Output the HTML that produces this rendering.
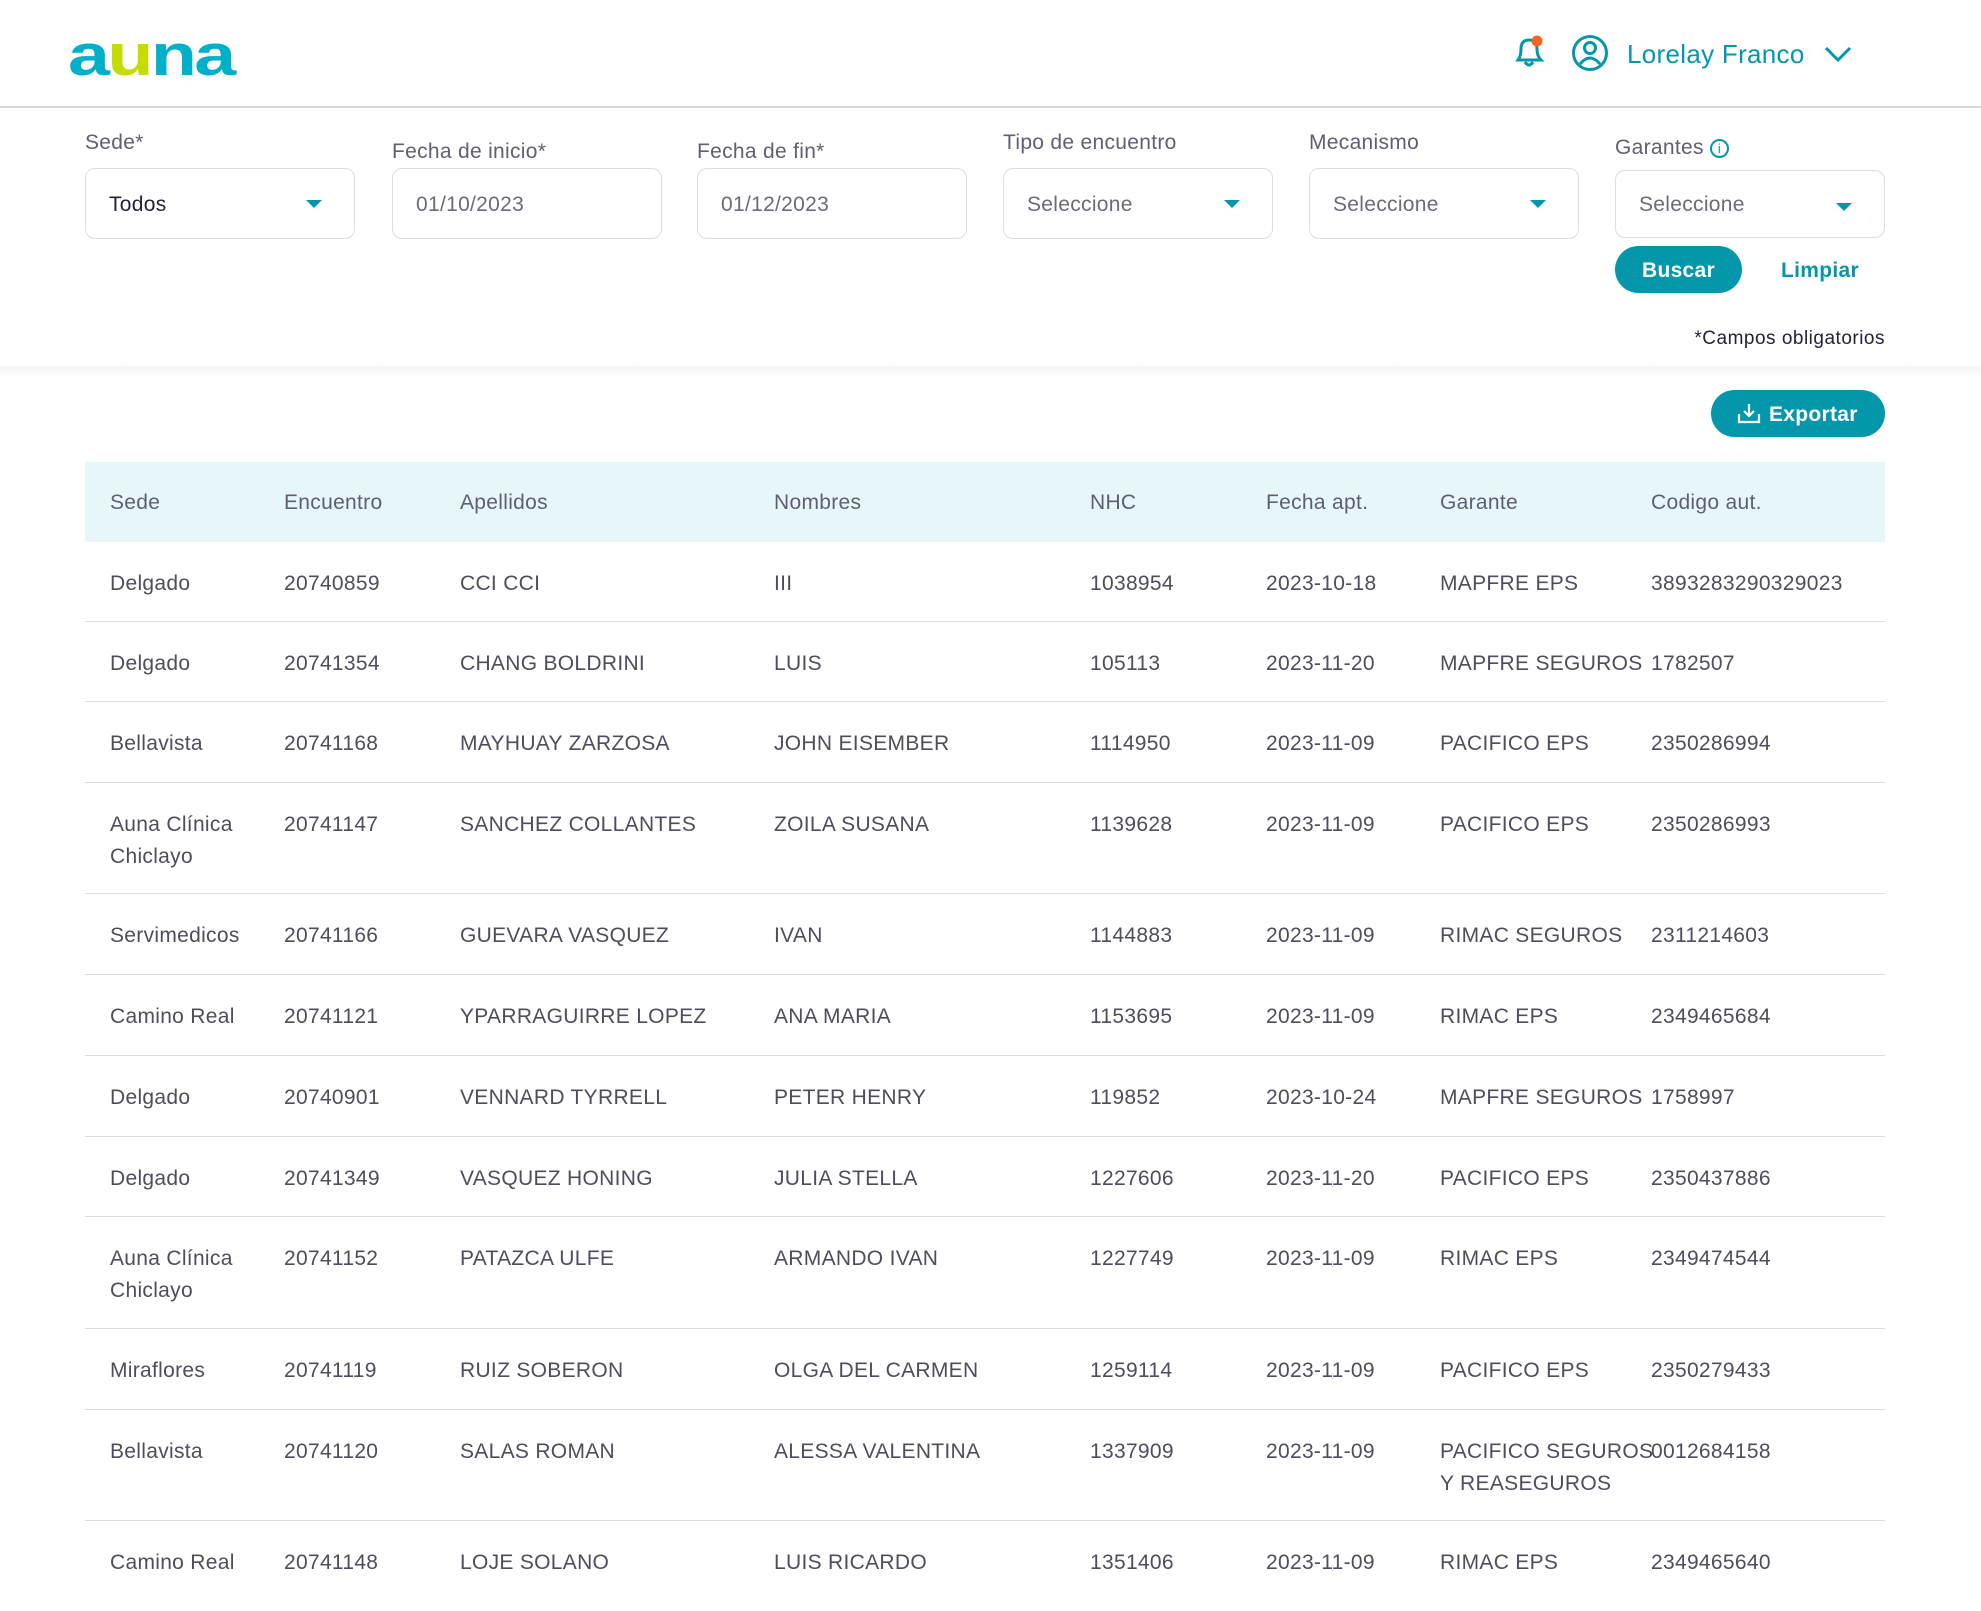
<!DOCTYPE html>
<html><head><meta charset="utf-8"><style>
*{box-sizing:border-box;margin:0;padding:0}
body{width:1981px;height:1600px;overflow:hidden;background:#fff;font-family:"Liberation Sans",sans-serif;color:#4d4d5c;position:relative;letter-spacing:0.3px}
.a{position:absolute;white-space:nowrap}
.lbl{font-size:21px;color:#5f5f70}
.inp{position:absolute;width:270px;height:71px;border:1.5px solid #dcdce6;border-radius:10px;font-size:21px;color:#6b6b78;padding:0 0 0 23px;line-height:72px}
.tri{position:absolute;right:32px;top:31px;width:0;height:0;border-left:8px solid transparent;border-right:8px solid transparent;border-top:8px solid #0497ab}
.row{position:absolute;left:85px;width:1800px;border-bottom:1.5px solid #dcdce2;font-size:21px;color:#4d4d5c}
.row div{position:absolute;top:26px;line-height:32px;white-space:nowrap}
.c1{left:25px}.c2{left:199px}.c3{left:375px}.c4{left:689px}.c5{left:1005px}.c6{left:1181px}.c7{left:1355px}.c8{left:1566px}
</style></head><body>
<div class="a" style="left:68px;top:22px;font-size:58px;font-weight:bold;color:#00afc8;letter-spacing:-2px;transform:scaleX(1.3);transform-origin:0 0">a<span style="color:#c4dc00">u</span>na</div>
<svg class="a" style="left:1513px;top:34px" width="34" height="36" viewBox="0 0 34 36"><path d="M5 26 Q8 22 8 15 Q8 6 16 6 Q24 6 24 15 Q24 22 28 26 Z" fill="none" stroke="#0497ab" stroke-width="3"/><path d="M12 28 Q16 34 20 28" fill="none" stroke="#0497ab" stroke-width="3"/><circle cx="24" cy="7" r="5.5" fill="#f26522"/></svg>
<svg class="a" style="left:1571px;top:34px" width="38" height="38" viewBox="0 0 38 38"><circle cx="19" cy="19" r="16.5" fill="none" stroke="#0497ab" stroke-width="3"/><circle cx="19" cy="14" r="5.5" fill="none" stroke="#0497ab" stroke-width="3"/><path d="M9 30 Q19 18 29 30" fill="none" stroke="#0497ab" stroke-width="3"/></svg>
<div class="a" style="left:1627px;top:39px;font-size:26px;color:#0497ab">Lorelay Franco</div>
<svg class="a" style="left:1823px;top:44px" width="30" height="20" viewBox="0 0 30 20"><path d="M3 4 L15 16 L27 4" fill="none" stroke="#0497ab" stroke-width="3"/></svg>
<div class="a" style="left:0;top:106px;width:1981px;height:1.5px;background:#d8d8e0"></div>

<div class="a lbl" style="left:85px;top:131px">Sede*</div>
<div class="a lbl" style="left:392px;top:140px">Fecha de inicio*</div>
<div class="a lbl" style="left:697px;top:140px">Fecha de fin*</div>
<div class="a lbl" style="left:1003px;top:131px">Tipo de encuentro</div>
<div class="a lbl" style="left:1309px;top:131px">Mecanismo</div>
<div class="a lbl" style="left:1615px;top:136px">Garantes <span style="display:inline-block;width:19px;height:19px;border:2px solid #0497ab;border-radius:50%;font-size:13px;line-height:15px;text-align:center;color:#0497ab;vertical-align:1px">i</span></div>
<div class="inp" style="left:85px;top:168px;color:#22223a">Todos<span class="tri"></span></div>
<div class="inp" style="left:392px;top:168px">01/10/2023</div>
<div class="inp" style="left:697px;top:168px">01/12/2023</div>
<div class="inp" style="left:1003px;top:168px">Seleccione<span class="tri"></span></div>
<div class="inp" style="left:1309px;top:168px">Seleccione<span class="tri"></span></div>
<div class="inp" style="left:1615px;top:170px;height:68px;line-height:68px">Seleccione<span class="tri" style="top:32px"></span></div>
<div class="a" style="left:1615px;top:246px;width:127px;height:47px;border-radius:24px;background:#0497ab;color:#fff;font-weight:bold;font-size:21px;text-align:center;line-height:49px">Buscar</div>
<div class="a" style="left:1781px;top:259px;font-size:21px;font-weight:bold;color:#0497ab">Limpiar</div>
<div class="a" style="right:96px;top:328px;font-size:19px;color:#22223a;letter-spacing:0.5px">*Campos obligatorios</div>
<div class="a" style="left:0;top:366px;width:1981px;height:12px;background:linear-gradient(#f4f4f6,#fff)"></div>
<div class="a" style="left:1711px;top:390px;width:174px;height:47px;border-radius:24px;background:#0497ab;color:#fff;font-weight:bold;font-size:21px;line-height:49px;padding-left:58px">Exportar</div>
<svg class="a" style="left:1737px;top:402px" width="24" height="22" viewBox="0 0 24 22"><path d="M12 2 V14 M7 9 L12 14 L17 9 M2 12 V20 H22 V12" fill="none" stroke="#fff" stroke-width="2.2"/></svg>

<div class="row" style="top:462px;height:80px;background:#e6f6f9;border:none;color:#5f5f70"><div class="c1" style="top:25px">Sede</div><div class="c2" style="top:25px">Encuentro</div><div class="c3" style="top:25px">Apellidos</div><div class="c4" style="top:25px">Nombres</div><div class="c5" style="top:25px">NHC</div><div class="c6" style="top:25px">Fecha apt.</div><div class="c7" style="top:25px">Garante</div><div class="c8" style="top:25px">Codigo aut.</div></div>

<div class="row" style="top:542px;height:80px"><div class="c1">Delgado</div><div class="c2">20740859</div><div class="c3">CCI CCI</div><div class="c4">III</div><div class="c5">1038954</div><div class="c6">2023-10-18</div><div class="c7">MAPFRE EPS</div><div class="c8">3893283290329023</div></div>
<div class="row" style="top:622px;height:80px"><div class="c1">Delgado</div><div class="c2">20741354</div><div class="c3">CHANG BOLDRINI</div><div class="c4">LUIS</div><div class="c5">105113</div><div class="c6">2023-11-20</div><div class="c7">MAPFRE SEGUROS</div><div class="c8">1782507</div></div>
<div class="row" style="top:702px;height:81px"><div class="c1">Bellavista</div><div class="c2">20741168</div><div class="c3">MAYHUAY ZARZOSA</div><div class="c4">JOHN EISEMBER</div><div class="c5">1114950</div><div class="c6">2023-11-09</div><div class="c7">PACIFICO EPS</div><div class="c8">2350286994</div></div>
<div class="row" style="top:783px;height:111px"><div class="c1">Auna Clínica<br>Chiclayo</div><div class="c2">20741147</div><div class="c3">SANCHEZ COLLANTES</div><div class="c4">ZOILA SUSANA</div><div class="c5">1139628</div><div class="c6">2023-11-09</div><div class="c7">PACIFICO EPS</div><div class="c8">2350286993</div></div>
<div class="row" style="top:894px;height:81px"><div class="c1">Servimedicos</div><div class="c2">20741166</div><div class="c3">GUEVARA VASQUEZ</div><div class="c4">IVAN</div><div class="c5">1144883</div><div class="c6">2023-11-09</div><div class="c7">RIMAC SEGUROS</div><div class="c8">2311214603</div></div>
<div class="row" style="top:975px;height:81px"><div class="c1">Camino Real</div><div class="c2">20741121</div><div class="c3">YPARRAGUIRRE LOPEZ</div><div class="c4">ANA MARIA</div><div class="c5">1153695</div><div class="c6">2023-11-09</div><div class="c7">RIMAC EPS</div><div class="c8">2349465684</div></div>
<div class="row" style="top:1056px;height:81px"><div class="c1">Delgado</div><div class="c2">20740901</div><div class="c3">VENNARD TYRRELL</div><div class="c4">PETER HENRY</div><div class="c5">119852</div><div class="c6">2023-10-24</div><div class="c7">MAPFRE SEGUROS</div><div class="c8">1758997</div></div>
<div class="row" style="top:1137px;height:80px"><div class="c1">Delgado</div><div class="c2">20741349</div><div class="c3">VASQUEZ HONING</div><div class="c4">JULIA STELLA</div><div class="c5">1227606</div><div class="c6">2023-11-20</div><div class="c7">PACIFICO EPS</div><div class="c8">2350437886</div></div>
<div class="row" style="top:1217px;height:112px"><div class="c1">Auna Clínica<br>Chiclayo</div><div class="c2">20741152</div><div class="c3">PATAZCA ULFE</div><div class="c4">ARMANDO IVAN</div><div class="c5">1227749</div><div class="c6">2023-11-09</div><div class="c7">RIMAC EPS</div><div class="c8">2349474544</div></div>
<div class="row" style="top:1329px;height:81px"><div class="c1">Miraflores</div><div class="c2">20741119</div><div class="c3">RUIZ SOBERON</div><div class="c4">OLGA DEL CARMEN</div><div class="c5">1259114</div><div class="c6">2023-11-09</div><div class="c7">PACIFICO EPS</div><div class="c8">2350279433</div></div>
<div class="row" style="top:1410px;height:111px"><div class="c1">Bellavista</div><div class="c2">20741120</div><div class="c3">SALAS ROMAN</div><div class="c4">ALESSA VALENTINA</div><div class="c5">1337909</div><div class="c6">2023-11-09</div><div class="c7">PACIFICO SEGUROS<br>Y REASEGUROS</div><div class="c8">0012684158</div></div>
<div class="row" style="top:1521px;height:90px;border:none"><div class="c1">Camino Real</div><div class="c2">20741148</div><div class="c3">LOJE SOLANO</div><div class="c4">LUIS RICARDO</div><div class="c5">1351406</div><div class="c6">2023-11-09</div><div class="c7">RIMAC EPS</div><div class="c8">2349465640</div></div>
</body></html>
